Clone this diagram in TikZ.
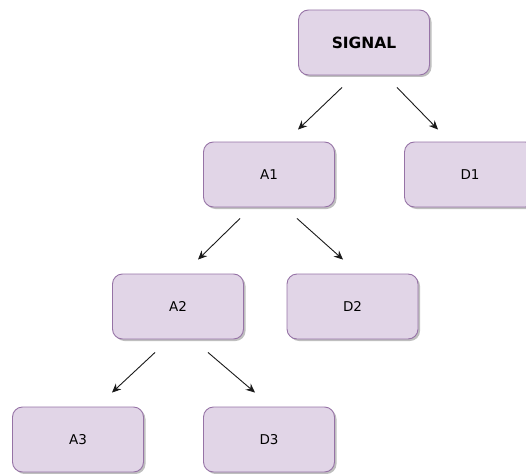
\documentclass[tikz,border=0pt]{standalone}
\usepackage{fontspec}
\setmainfont{DejaVu Sans}
\usetikzlibrary{calc,shadows,arrows.meta}
\definecolor{boxfill}{HTML}{E1D5E7}
\definecolor{boxline}{HTML}{9673A6}
\definecolor{arrowline}{HTML}{1A1A1A}
\tikzset{
  tree/.style={draw=boxline, fill=boxfill, line width=0.9pt, rounded corners=10pt,
    minimum width=131pt, minimum height=65pt, inner sep=0pt,
    font=\fontsize{13.5}{15}\selectfont,
    drop shadow={shadow xshift=2pt, shadow yshift=-2pt, opacity=0.25, fill=black}},
  root/.style={tree, font=\fontsize{15.5}{17}\selectfont\bfseries},
  link/.style={draw=arrowline, line width=0.9pt, -{Stealth[length=9pt,width=8pt]}}
}
\begin{document}
\begin{tikzpicture}[x=1pt,y=-1pt]
  \useasboundingbox (0,0) rectangle (526,473);
  \clip (0,0) rectangle (526,473);
  % level 0
  \node[root] (sig) at (364,42.5) {SIGNAL};
  % level 1
  \node[tree] (a1) at (269,174.5) {A1};
  \node[tree] (d1) at (470,174.5) {D1};
  % level 2
  \node[tree] (a2) at (178,306.5) {A2};
  \node[tree] (d2) at (352.5,306.5) {D2};
  % level 3
  \node[tree] (a3) at (78,439.5) {A3};
  \node[tree] (d3) at (269,439.5) {D3};
  % arrow end points, set apart from the boxes
  \coordinate (s-a) at ($(sig.south)+(-22,12)$);
  \coordinate (s-d) at ($(sig.south)+(33,12)$);
  \coordinate (a1-in) at ($(a1.north)+(29,-12)$);
  \coordinate (d1-in) at ($(d1.north)+(-32,-12)$);
  \coordinate (a1-a) at ($(a1.south)+(-29,11)$);
  \coordinate (a1-d) at ($(a1.south)+(28,11)$);
  \coordinate (a2-in) at ($(a2.north)+(20,-14)$);
  \coordinate (d2-in) at ($(d2.north)+(-9.5,-14)$);
  \coordinate (a2-a) at ($(a2.south)+(-23,13)$);
  \coordinate (a2-d) at ($(a2.south)+(30,13)$);
  \coordinate (a3-in) at ($(a3.north)+(34,-14)$);
  \coordinate (d3-in) at ($(d3.north)+(-14,-14)$);
  % arrows
  \draw[link] (s-a) -- (a1-in);
  \draw[link] (s-d) -- (d1-in);
  \draw[link] (a1-a) -- (a2-in);
  \draw[link] (a1-d) -- (d2-in);
  \draw[link] (a2-a) -- (a3-in);
  \draw[link] (a2-d) -- (d3-in);
\end{tikzpicture}
\end{document}
